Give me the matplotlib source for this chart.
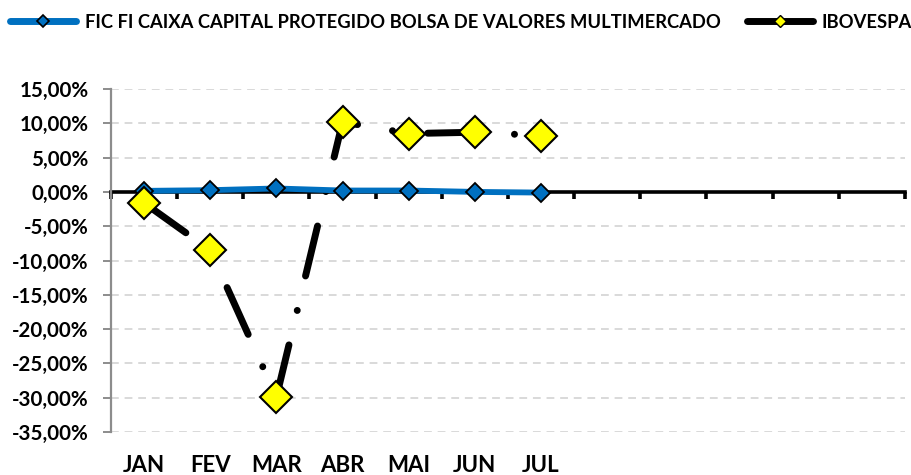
import matplotlib
matplotlib.use("Agg")
import matplotlib.pyplot as plt
from matplotlib.lines import Line2D
from matplotlib.ticker import FuncFormatter, MultipleLocator
import matplotlib.transforms as mtransforms

months = ["JAN", "FEV", "MAR", "ABR", "MAI", "JUN", "JUL"]
fic = [0.15, 0.25, 0.5, 0.2, 0.2, 0.0, -0.1]
ibov = [-1.6, -8.5, -29.9, 10.2, 8.5, 8.7, 8.2]
n_slots = 12
fic_name = "FIC FI CAIXA CAPITAL PROTEGIDO BOLSA DE VALORES MULTIMERCADO"
ibov_name = "IBOVESPA"

FONT = "Lato"
plt.rcParams["font.family"] = [FONT, "DejaVu Sans"]
plt.rcParams["font.weight"] = "bold"

W, H = 912, 475
fig = plt.figure(figsize=(W / 100, H / 100), dpi=100)
ax = fig.add_axes([111 / W, 1 - 432 / H, (905 - 111) / W, (432 - 89) / H])

xs = [i + 0.5 for i in range(len(months))]

ax.set_xlim(0, n_slots)
ax.set_ylim(-35, 15)

# grid
ax.yaxis.set_major_locator(MultipleLocator(5))
ax.grid(axis="y", color="#d9d9d9", linestyle=(0, (4, 3)), linewidth=1.4, zorder=0)
ax.set_axisbelow(True)

ax.yaxis.set_major_formatter(FuncFormatter(lambda v, p: f"{v:.2f}%".replace(".", ",")))
ax.tick_params(axis="y", direction="out", length=6, width=1.4, color="#8c8c8c",
               labelsize=14.8, pad=10)
for lab in ax.get_yticklabels():
    lab.set_fontweight("bold")

for s in ["top", "right"]:
    ax.spines[s].set_visible(False)
ax.spines["left"].set_color("#8c8c8c")
ax.spines["left"].set_linewidth(1.6)
ax.spines["bottom"].set_position(("data", 0))
ax.spines["bottom"].set_color("black")
ax.spines["bottom"].set_linewidth(2.6)
ax.spines["bottom"].set_zorder(2)
ax.set_xticks(range(n_slots + 1))
ax.tick_params(axis="x", direction="out", length=5, width=2.6, color="black",
               labelbottom=False)

# IBOVESPA series
ax.plot(xs, ibov, color="black", linewidth=5.0,
        linestyle=(0, (7.4, 5.1, 0.01, 5.1)), dash_capstyle="round",
        solid_capstyle="round", zorder=3)
ax.plot(xs, ibov, linestyle="none", marker="D", markersize=16,
        markerfacecolor="#ffff00", markeredgecolor="black", markeredgewidth=1.5, zorder=5)

# FIC series
ax.plot(xs, fic, color="#0070c0", linewidth=4.2, marker="D", markersize=9.5,
        markerfacecolor="#0070c0", markeredgecolor="black", markeredgewidth=1.3,
        solid_joinstyle="round", zorder=4)

# month labels at bottom
trans = mtransforms.blended_transform_factory(ax.transData, fig.transFigure)
for x, m in zip(xs, months):
    ax.text(x, 1 - 465 / H, m, transform=trans, ha="center", va="center",
            fontsize=16, fontweight="bold", clip_on=False)

# legend
h1 = Line2D([], [], color="#0070c0", linewidth=5, marker="D", markersize=6,
            markerfacecolor="#0070c0", markeredgecolor="black", markeredgewidth=1.2,
            solid_capstyle="round")
h2 = Line2D([], [], color="black", linewidth=5, marker="D", markersize=6,
            markerfacecolor="#ffff00", markeredgecolor="black", markeredgewidth=1.0,
            solid_capstyle="round")
leg = fig.legend([h1, h2], [fic_name, ibov_name], loc="center", ncol=2,
                 bbox_to_anchor=(461 / W, 1 - 22 / H), frameon=False,
                 prop={"weight": "bold", "size": 13.2}, handlelength=3.6,
                 handletextpad=0.5, columnspacing=1.4)

fig.savefig("out.png", dpi=100)
